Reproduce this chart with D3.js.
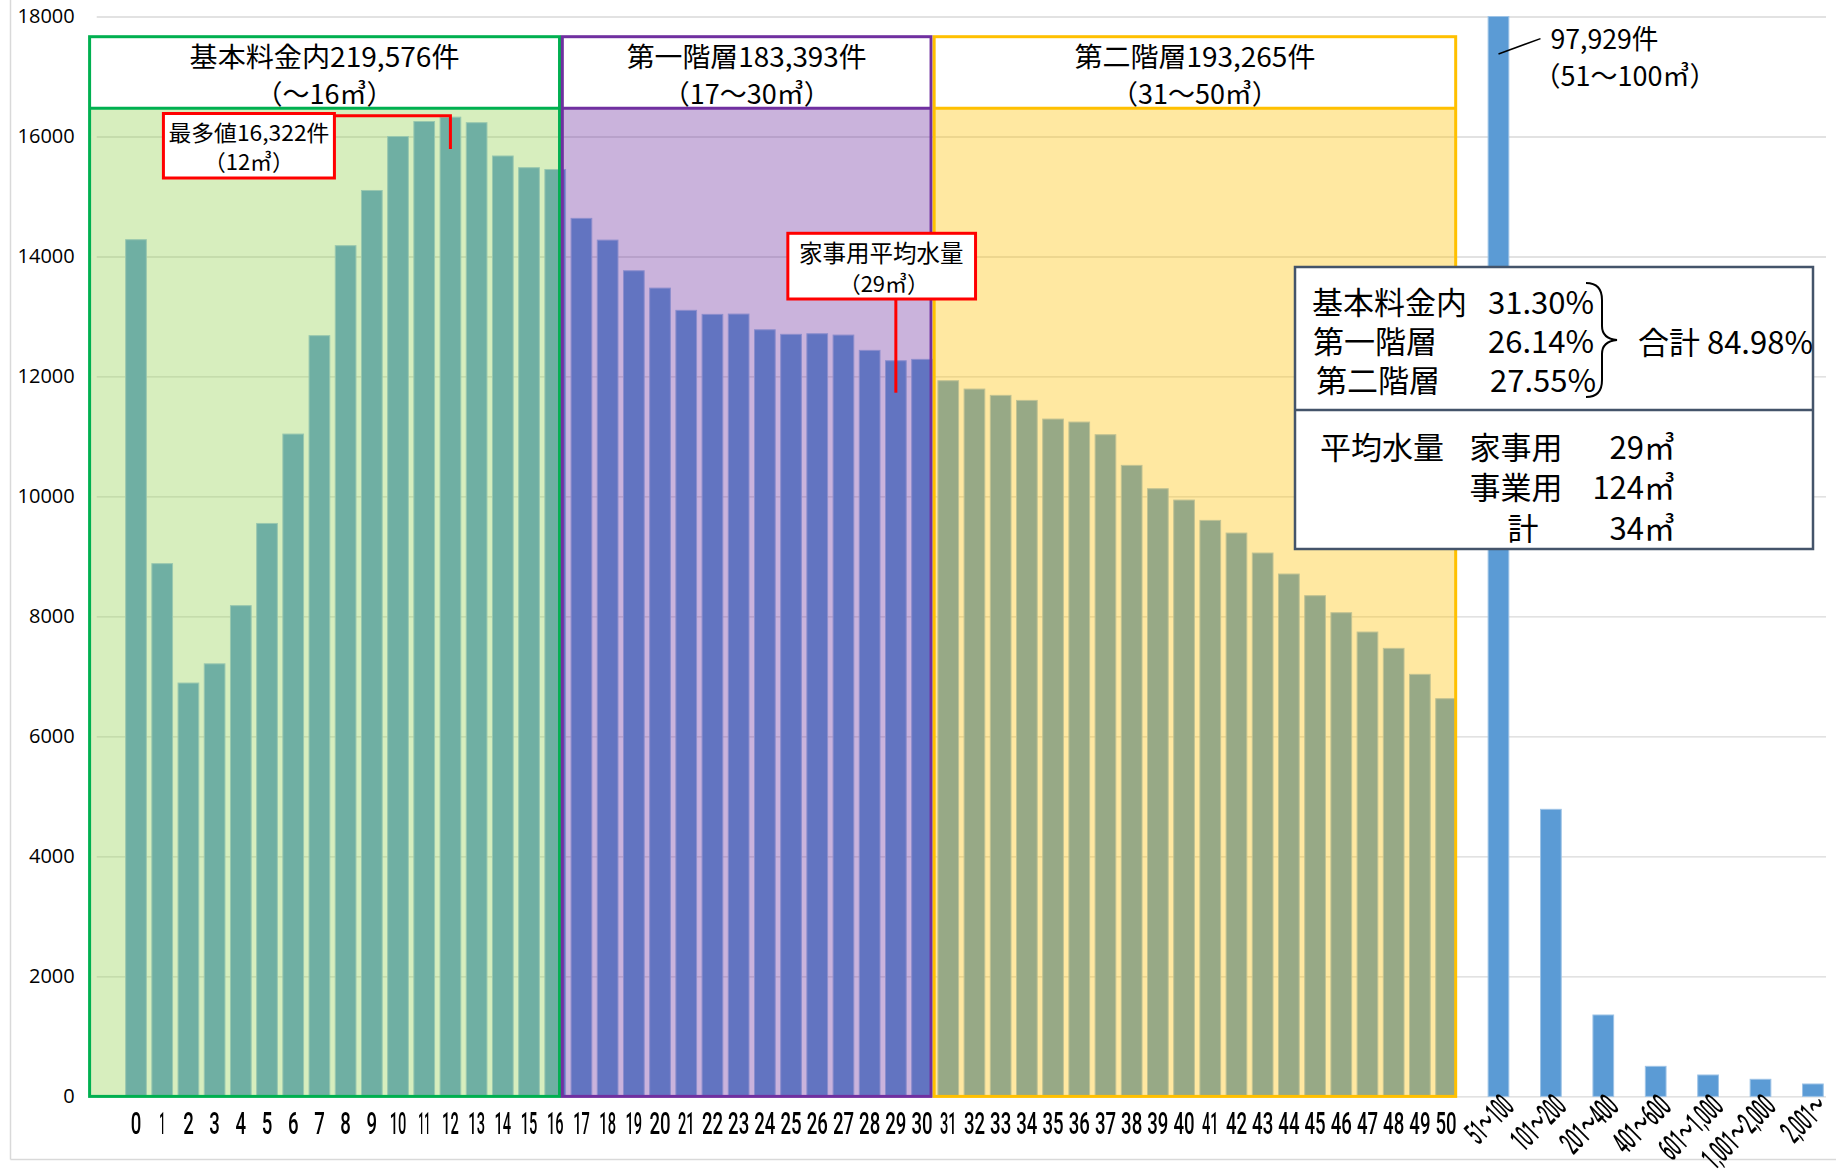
<!DOCTYPE html>
<html>
<head>
<meta charset="utf-8">
<script src="https://d3js.org/d3.v7.min.js"></script>
<style>
html, body { margin: 0; padding: 0; background: #fff; }
svg { display: block; }
text { font-family: "Noto Sans CJK JP", sans-serif; fill: #000; }
</style>
</head>
<body>
<div id="chart"></div>
<script>
// monthly usage (m3) -> number of accounts
var usageLabels = ['0','1','2','3','4','5','6','7','8','9','10','11','12','13','14','15','16',
	'17','18','19','20','21','22','23','24','25','26','27','28','29','30',
	'31','32','33','34','35','36','37','38','39','40','41','42','43','44','45','46','47','48','49','50'];
var usageCounts = [14280, 8880, 6890, 7210, 8180, 9550, 11040, 12680, 14180, 15100, 16000, 16250, 16322, 16230, 15675, 15480, 15450,
	14635, 14273, 13762, 13473, 13102, 13035, 13040, 12778, 12702, 12712, 12690, 12435, 12262, 12285,
	11929, 11790, 11685, 11601, 11290, 11240, 11029, 10518, 10129, 9940, 9601, 9390, 9057, 8707, 8346, 8062, 7740, 7468, 7035, 6629];
var largeLabels = ['51～100', '101～200', '201～400', '401～600', '601～1,000', '1,001～2,000', '2,001～'];
var largeCounts = [97929, 4785, 1357, 501, 357, 285, 207];
var yTicks = [0, 2000, 4000, 6000, 8000, 10000, 12000, 14000, 16000, 18000];

var tierNames = ['基本料金内', '第一階層', '第二階層'];
var tierTotals = ['219,576', '183,393', '193,265'];
var tierRanges = ['～16', '17～30', '31～50'];
var tierFirst = ['0', '17', '31'];
var tierLast = ['16', '30', '50'];
var tierShares = ['31.30%', '26.14%', '27.55%'];
var totalShare = '84.98%';
var avgNames = ['家事用', '事業用', '計'];
var avgValues = ['29', '124', '34'];

var tierColors = ['#92D050', '#7030A0', '#FFC000'];
var tierBorders = ['#00B050', '#7030A0', '#FFC000'];

(function () {
var W = 1836, H = 1171;
var pl = 96.7, pr = 1826, pt = 16.5, pb = 1096.4;
var headTop = 36.7, headBottom = 108.3;

var svg = d3.select('#chart').append('svg').attr('width', W).attr('height', H);

// one category axis: a blank slot before 0 and between the large-usage classes
var categories = ['_b0'];
usageLabels.forEach(function (d) { categories.push(d); });
largeLabels.forEach(function (d, i) { categories.push('_b' + (i + 1)); categories.push(d); });

var x = d3.scaleBand().domain(categories).range([pl, pr]).paddingInner(0.21).paddingOuter(0.105);
var y = d3.scaleLinear().domain([0, 18000]).range([pb, pt]).clamp(true);
var pad = (x.step() - x.bandwidth()) / 2;
function cellLeft(k) { return x(k) - pad; }
function cellRight(k) { return x(k) - pad + x.step(); }
function mid(k) { return x(k) + x.bandwidth() / 2; }

// narrow category font: approximate advance widths
function labelWidth(s) {
	var w = 0;
	s.split('').forEach(function (c) {
		if (c === '1') w += 5.5;
		else if (c === ',') w += 3.5;
		else if (c === '～') w += 13;
		else w += 9.6;
	});
	return w;
}

// chart frame
svg.append('line').attr('x1', 10.5).attr('x2', 10.5).attr('y1', 0).attr('y2', 1159.5)
	.attr('stroke', '#d9d9d9').attr('stroke-width', 1.5);
svg.append('line').attr('x1', 10.5).attr('x2', W).attr('y1', 1159.5).attr('y2', 1159.5)
	.attr('stroke', '#d9d9d9').attr('stroke-width', 1.5);

// y axis + gridlines
var yAxis = svg.append('g').attr('transform', 'translate(' + pl + ',0)')
	.call(d3.axisLeft(y).tickValues(yTicks).tickSize(-(pr - pl)).tickPadding(22).tickFormat(d3.format('d')));
yAxis.select('.domain').remove();
yAxis.selectAll('.tick line').attr('stroke', '#d9d9d9').attr('stroke-width', 1.3);
yAxis.selectAll('.tick text').style('font-family', '"Open Sans", sans-serif').style('font-size', '20px').attr('fill', '#1a1a1a');

// bars
var bars = usageLabels.map(function (d, i) { return { key: d, value: usageCounts[i] }; })
	.concat(largeLabels.map(function (d, i) { return { key: d, value: largeCounts[i] }; }));
svg.append('g').selectAll('rect').data(bars).enter().append('rect')
	.attr('x', function (d) { return x(d.key); })
	.attr('width', x.bandwidth())
	.attr('y', function (d) { return y(d.value); })
	.attr('height', function (d) { return pb - y(d.value); })
	.attr('fill', '#5B9BD5')
	.attr('stroke', '#9DC3E6').attr('stroke-width', 1);

// tier boxes
var inset = [[-33.3, -8.8], [-6, -4.1], [-1, -3.5]];
var tiers = tierNames.map(function (n, i) {
	var l = (i === 0 ? cellLeft(tierFirst[i]) : cellRight(tierLast[i - 1])) + inset[i][0];
	var r = cellRight(tierLast[i]) + inset[i][1];
	return { name: n, total: tierTotals[i], range: tierRanges[i], l: l, r: r, fill: tierColors[i], border: tierBorders[i] };
});
var tg = svg.append('g');
tg.selectAll('rect.fill').data(tiers).enter().append('rect').attr('class', 'fill')
	.attr('x', function (d) { return d.l; }).attr('width', function (d) { return d.r - d.l; })
	.attr('y', headBottom).attr('height', pb - headBottom)
	.attr('fill', function (d) { return d.fill; }).attr('fill-opacity', 0.37);
tg.selectAll('rect.head').data(tiers).enter().append('rect').attr('class', 'head')
	.attr('x', function (d) { return d.l; }).attr('width', function (d) { return d.r - d.l; })
	.attr('y', headTop).attr('height', headBottom - headTop).attr('fill', '#fff');
tg.selectAll('rect.border').data(tiers).enter().append('rect').attr('class', 'border')
	.attr('x', function (d) { return d.l; }).attr('width', function (d) { return d.r - d.l; })
	.attr('y', headTop).attr('height', pb - headTop)
	.attr('fill', 'none').attr('stroke', function (d) { return d.border; }).attr('stroke-width', 3);
tg.selectAll('line.sep').data(tiers).enter().append('line').attr('class', 'sep')
	.attr('x1', function (d) { return d.l; }).attr('x2', function (d) { return d.r; })
	.attr('y1', headBottom).attr('y2', headBottom)
	.attr('stroke', function (d) { return d.border; }).attr('stroke-width', 3);
var headLen = [270, 240, 241];
tg.selectAll('text.t1').data(tiers).enter().append('text').attr('class', 't1')
	.attr('x', function (d) { return (d.l + d.r) / 2; }).attr('y', 55)
	.attr('text-anchor', 'middle').attr('dominant-baseline', 'central')
	.attr('textLength', function (d, i) { return headLen[i]; }).attr('lengthAdjust', 'spacingAndGlyphs')
	.style('font-size', '27px')
	.text(function (d) { return d.name + d.total + '件'; });
tg.selectAll('text.t2').data(tiers).enter().append('text').attr('class', 't2')
	.attr('x', function (d) { return (d.l + d.r) / 2; }).attr('y', 92)
	.attr('text-anchor', 'middle').attr('dominant-baseline', 'central')
	.style('font-size', '27px')
	.text(function (d) { return '（' + d.range + '㎥）'; });

// x axis labels
var xAxis = svg.append('g').attr('transform', 'translate(0,' + pb + ')').style('opacity', 0.999)
	.call(d3.axisBottom(x).tickSize(0).tickFormat(function (d) { return d.charAt(0) === '_' ? '' : d; }));
xAxis.select('.domain').remove();
xAxis.selectAll('.tick text')
	.style('font-family', 'Roboto, "Noto Sans CJK JP", sans-serif').style('font-size', '32px').style('font-weight', 500)
	.attr('fill', '#000').attr('y', 0).attr('dy', 0)
	.attr('textLength', function (d) {
		if (d.charAt(0) === '_') return null;
		return largeLabels.indexOf(d) >= 0 ? labelWidth(d) : labelWidth(d) * 1.1;
	})
	.attr('lengthAdjust', 'spacingAndGlyphs')
	.attr('text-anchor', function (d) { return largeLabels.indexOf(d) >= 0 ? 'end' : 'middle'; })
	.attr('transform', function (d) {
		if (largeLabels.indexOf(d) >= 0) return 'translate(17,12) rotate(-45)';
		return 'translate(0,38)';
	});

// annotation: mode
var ann = svg.append('g');
var c12 = mid('12');
ann.append('polyline')
	.attr('points', [[c12 - 116, 115.7], [c12, 115.7], [c12, 149]].join(' '))
	.attr('fill', 'none').attr('stroke', '#FF0000').attr('stroke-width', 3);
ann.append('rect').attr('x', c12 - 287).attr('y', 113.5).attr('width', 171).attr('height', 64.5)
	.attr('fill', '#fff').attr('stroke', '#FF0000').attr('stroke-width', 3);
ann.append('text').attr('x', c12 - 201.5).attr('y', 131).attr('text-anchor', 'middle').attr('dominant-baseline', 'central')
	.attr('textLength', 161).attr('lengthAdjust', 'spacingAndGlyphs')
	.style('font-size', '22px').text('最多値16,322件');
ann.append('text').attr('x', c12 - 201.5).attr('y', 160).attr('text-anchor', 'middle').attr('dominant-baseline', 'central')
	.style('font-size', '22px').text('（12㎥）');

// annotation: household average
var c29 = mid('29');
ann.append('line').attr('x1', c29).attr('x2', c29).attr('y1', 299).attr('y2', 392.7)
	.attr('stroke', '#FF0000').attr('stroke-width', 3);
ann.append('rect').attr('x', c29 - 108).attr('y', 233.3).attr('width', 187.7).attr('height', 65.7)
	.attr('fill', '#fff').attr('stroke', '#FF0000').attr('stroke-width', 3);
ann.append('text').attr('x', c29 - 14.5).attr('y', 251.7).attr('text-anchor', 'middle').attr('dominant-baseline', 'central')
	.style('font-size', '23.5px').text('家事用平均水量');
ann.append('text').attr('x', c29 - 12).attr('y', 281.7).attr('text-anchor', 'middle').attr('dominant-baseline', 'central')
	.style('font-size', '22px').text('（29㎥）');

// annotation: 51-100 bar out of range
var c51 = mid(largeLabels[0]);
ann.append('line').attr('x1', c51).attr('y1', 54).attr('x2', c51 + 42).attr('y2', 38.6)
	.attr('stroke', '#000').attr('stroke-width', 1.5);
ann.append('text').attr('x', c51 + 52).attr('y', 37.5).attr('dominant-baseline', 'central')
	.attr('textLength', 108).attr('lengthAdjust', 'spacingAndGlyphs')
	.style('font-size', '27px').text(d3.format(',')(largeCounts[0]) + '件');
ann.append('text').attr('x', c51 + 35).attr('y', 74.5).attr('dominant-baseline', 'central')
	.style('font-size', '27px').text('（' + largeLabels[0] + '㎥）');

// info box
var info = svg.append('g');
info.append('rect').attr('x', 1295).attr('y', 267).attr('width', 518).attr('height', 282)
	.attr('fill', '#fff').attr('stroke', '#44546A').attr('stroke-width', 2.5);
info.append('line').attr('x1', 1295).attr('x2', 1813).attr('y1', 410).attr('y2', 410)
	.attr('stroke', '#44546A').attr('stroke-width', 2.5);
var rowY = [300, 339, 378];
var nameX = [1312, 1313, 1316];
tierNames.forEach(function (n, i) {
	info.append('text').attr('x', nameX[i]).attr('y', rowY[i]).attr('dominant-baseline', 'central')
		.style('font-size', '31px').text(n);
	info.append('text').attr('x', 1594 + (i === 2 ? 2 : 0)).attr('y', rowY[i]).attr('text-anchor', 'end')
		.attr('dominant-baseline', 'central').style('font-size', '31px').text(tierShares[i]);
});
info.append('path')
	.attr('d', 'M1586,283 C1598,283 1602,290 1602,300 L1602,326 C1602,334 1606,339 1617,340 C1606,341 1602,346 1602,354 L1602,380 C1602,390 1598,397 1586,397')
	.attr('fill', 'none').attr('stroke', '#000').attr('stroke-width', 2);
info.append('text').attr('x', 1638).attr('y', 340).attr('dominant-baseline', 'central')
	.style('font-size', '31px').text('合計 ' + totalShare);
var avgY = [445, 485.5, 526.7];
info.append('text').attr('x', 1320).attr('y', avgY[0]).attr('dominant-baseline', 'central')
	.style('font-size', '31px').text('平均水量');
avgNames.forEach(function (n, i) {
	info.append('text').attr('x', i === 2 ? 1523 : 1516).attr('y', avgY[i]).attr('text-anchor', 'middle')
		.attr('dominant-baseline', 'central').style('font-size', '31px').text(n);
	info.append('text').attr('x', 1675).attr('y', avgY[i]).attr('text-anchor', 'end')
		.attr('dominant-baseline', 'central').style('font-size', '31px').text(avgValues[i] + '㎥');
});
})();
</script>
</body>
</html>
